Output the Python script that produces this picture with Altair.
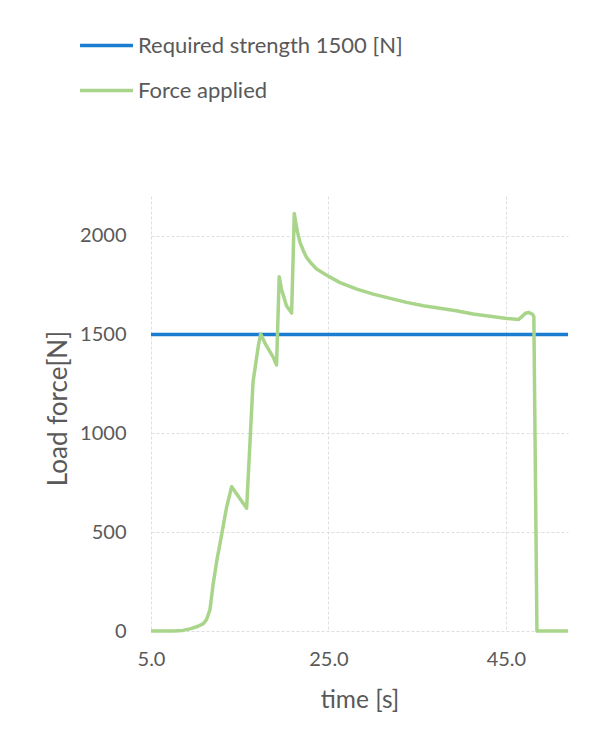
import altair as alt
import pandas as pd

# Force applied curve
time_s = [5.0, 7.5, 8.6, 9.5, 10.3, 10.9, 11.27, 11.65, 12.0, 12.4, 12.96, 13.5, 14.09,
          15.78, 16.2, 16.5, 16.83, 17.1, 17.36, 18.0, 18.77, 19.15,
          19.45, 19.7, 20.27, 20.85, 21.15, 21.3, 21.5, 21.8, 22.2, 22.55, 23.1,
          23.7, 24.9, 26.3, 28.2, 30.05, 33.8, 35.7, 39.4, 41.3, 45.1, 46.4,
          46.8, 47.2, 47.6, 48.0, 48.15, 48.5, 52.0]
force_n = [0, 0, 3, 12, 24, 37, 59, 109, 235, 352, 487, 621, 730,
           621, 992, 1259, 1360, 1443, 1502, 1443, 1385, 1345,
           1792, 1730, 1645, 1608, 2111, 2070, 2020, 1964, 1920, 1888, 1857,
           1830, 1797, 1762, 1729, 1704, 1662, 1645, 1620, 1603, 1581, 1575,
           1590, 1607, 1611, 1602, 1590, 0, 0]

# Required strength line
req_time = [5.0, 52.0]
req_force = [1500, 1500]

series_names = ["Required strength 1500 [N]", "Force applied"]
series_colors = ["#1b7dcf", "#a9d58a"]

x_ticks = [5, 25, 45]
y_ticks = [0, 500, 1000, 1500, 2000]

df_force = pd.DataFrame({"t": time_s, "F": force_n, "series": series_names[1]})
df_req = pd.DataFrame({"t": req_time, "F": req_force, "series": series_names[0]})

FONT = "Lato"
GRAY = "#595959"

x_enc = alt.X("t:Q", scale=alt.Scale(domain=[5, 52], nice=False, zero=False),
              axis=alt.Axis(values=x_ticks, format=".1f", title="time [s]"))
y_enc = alt.Y("F:Q", scale=alt.Scale(domain=[0, 2200], nice=False),
              axis=alt.Axis(values=y_ticks, format="d", title="Load force[N]",
                            titleX=-93, titleY=212, titleAngle=270,
                            titleAlign="center", titleBaseline="middle"))
color_enc = alt.Color("series:N",
                      scale=alt.Scale(domain=series_names, range=series_colors),
                      legend=alt.Legend(title=None, orient="none", legendX=-73, legendY=-179,
                                        symbolType="stroke", symbolSize=2800,
                                        symbolStrokeWidth=3.5, labelFontSize=22,
                                        labelFont=FONT, labelColor=GRAY, labelLimit=0,
                                        labelOffset=3, rowPadding=5, padding=0))

req = alt.Chart(df_req).mark_line(strokeWidth=3.5).encode(x=x_enc, y=y_enc, color=color_enc)
frc = alt.Chart(df_force).mark_line(strokeWidth=3.5, strokeJoin="round").encode(
    x=x_enc, y=y_enc, color=color_enc)

chart = alt.layer(req, frc).properties(
    width=417, height=435,
    padding={"left": 37, "top": 9, "right": 5, "bottom": 5},
).configure_view(stroke=None).configure_axis(
    domain=False, ticks=False, grid=True, gridColor="#dedede", gridDash=[3, 2],
    labelFont=FONT, labelFontSize=20, labelColor=GRAY,
    titleFont=FONT, titleFontSize=24.5, titleColor=GRAY, titleFontWeight="normal",
).configure_axisX(labelPadding=18, titlePadding=19, labelFlush=False).configure_axisY(
    labelPadding=25, titleFontSize=26)

chart.save("out.html", embed_options={"renderer": "svg", "actions": False})
